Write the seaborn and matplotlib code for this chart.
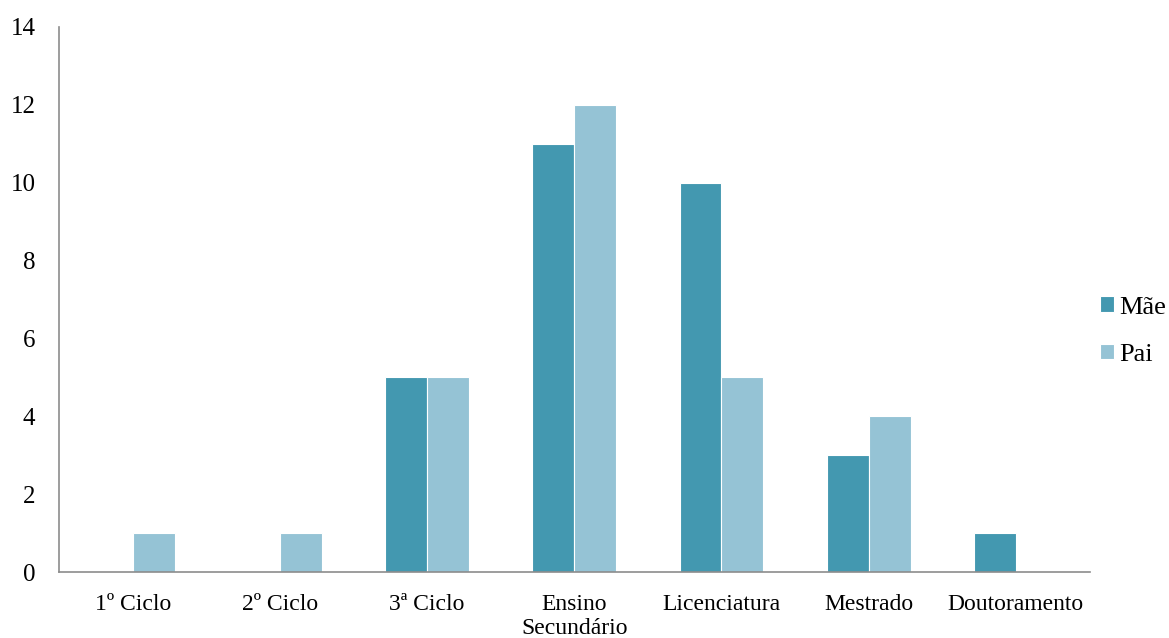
import matplotlib
matplotlib.use("Agg")
import matplotlib.pyplot as plt
import seaborn as sns
import pandas as pd

# Education level of mother and father
categories = ["1º Ciclo", "2º Ciclo", "3ª Ciclo", "Ensino\nSecundário",
              "Licenciatura", "Mestrado", "Doutoramento"]
mae = [0, 0, 5, 11, 10, 3, 1]
pai = [1, 1, 5, 12, 5, 4, 0]
series_names = ["Mãe", "Pai"]
yticks = [0, 2, 4, 6, 8, 10, 12, 14]

df = pd.DataFrame({
    "Nível": categories * 2,
    "Valor": mae + pai,
    "Progenitor": [series_names[0]] * len(categories) + [series_names[1]] * len(categories),
})

sns.set_theme(style="white")
plt.rcParams["font.family"] = ["Liberation Serif", "DejaVu Serif"]
plt.rcParams["text.color"] = "black"

fig = plt.figure(figsize=(11.69, 6.38), dpi=100)
ax = fig.add_axes([0.0505, 0.1034, 0.8815, 0.8543])

palette = {"Mãe": "#4398B0", "Pai": "#95C3D5"}
sns.barplot(data=df, x="Nível", y="Valor", hue="Progenitor", palette=palette,
            width=0.57, edgecolor="white", linewidth=0.8, saturation=1,
            ax=ax, errorbar=None)

ax.set_ylim(0, 14)
ax.set_yticks(yticks)
ax.set_xlim(-0.5, len(categories) - 0.5)
ax.set_xlabel("")
ax.set_ylabel("")
ax.tick_params(axis="both", length=0, colors="black")
ax.tick_params(axis="y", labelsize=18, pad=17)
ax.tick_params(axis="x", labelsize=17, pad=16)
for lab in ax.get_xticklabels():
    lab.set_linespacing(1.15)

for s in ["top", "right"]:
    ax.spines[s].set_visible(False)
for s in ["left", "bottom"]:
    ax.spines[s].set_color("#8c8c8c")
    ax.spines[s].set_linewidth(1.2)

leg = ax.legend(loc="center left", bbox_to_anchor=(1.0, 0.442), frameon=False,
                fontsize=19, handlelength=0.53, handleheight=0.53,
                handletextpad=0.2, labelspacing=0.95, borderaxespad=0.0,
                borderpad=0.4)
for t in leg.get_texts():
    t.set_color("black")

fig.savefig("out.png", dpi=100)
